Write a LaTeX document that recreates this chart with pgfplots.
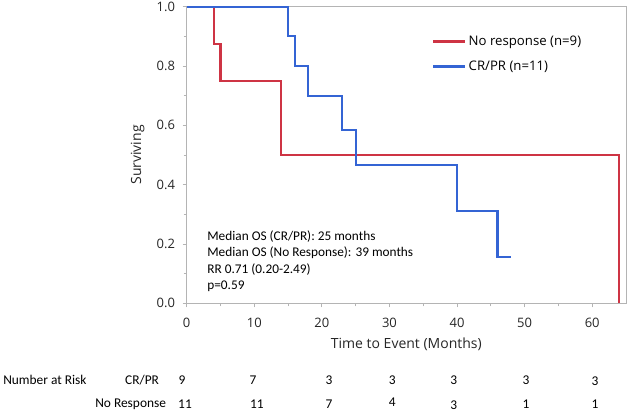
\documentclass[border=0pt]{standalone}
\usepackage{pgfplots}
\pgfplotsset{compat=1.18}
\usepackage{fontspec}
\setmainfont{Open Sans}
\newfontfamily\calfont{Carlito}
\definecolor{kmred}{RGB}{206,52,68}
\definecolor{kmblue}{RGB}{52,100,212}
\definecolor{framegray}{RGB}{180,180,180}
\tikzset{nar/.style={font=\calfont\fontsize{13.4}{15}\selectfont, inner sep=0pt}}
\begin{document}
\begin{tikzpicture}[x=1pt,y=1pt]
\path[use as bounding box] (0,0) rectangle (630,413);
\begin{axis}[
  at={(186.7pt,109.7pt)}, anchor=south west,
  scale only axis, width=439.3pt, height=296.6pt,
  xmin=0, xmax=65, ymin=0, ymax=1,
  xtick={0,10,...,60}, ytick={0,0.2,...,1.0},
  minor xtick={5,15,...,55}, minor ytick={0.1,0.3,...,0.9},
  /pgf/number format/assume math mode=true,
  tick align=outside, tick pos=left,
  major tick length=4pt, minor tick length=3pt,
  axis line style={framegray}, tick style={framegray, line width=0.8pt},
  every axis/.append style={line width=0.8pt},
  tick label style={font=\fontsize{13}{15}\selectfont, color=black!85},
  xticklabel style={yshift=-7pt},
  yticklabel style={xshift=-4pt, /pgf/number format/.cd,fixed,fixed zerofill,precision=1},
  xlabel={Time to Event (Months)}, ylabel={Surviving},
  label style={font=\fontsize{14}{16}\selectfont, color=black!85},
  xlabel style={yshift=-3pt},
  ylabel style={yshift=5pt},
  clip=false,
  legend style={draw=none, fill=none, at={(0.55,0.917)}, anchor=north west,
    font=\fontsize{13.2}{15}\selectfont, row sep=10pt, cells={anchor=west}},
  legend image code/.code={\draw[#1, line width=3pt] (0pt,0pt) -- (32pt,0pt);},
]
\addplot[const plot, kmred, line width=2.2pt] coordinates {
  (0,1) (4,0.875) (5,0.75) (14,0.5) (64,0)
};
\addlegendentry{No response (n=9)}
\addplot[const plot, kmblue, line width=2.2pt] coordinates {
  (0,1) (15,0.9) (16,0.8) (18,0.7) (23,0.583) (25,0.467) (40,0.311) (46,0.156) (48,0.156)
};
\addlegendentry{CR/PR (n=11)}
\node[anchor=north west, align=left, font=\calfont\fontsize{13.3}{16.6}\selectfont, inner sep=0pt]
  at (axis cs:3.0,0.247) {Median OS (CR/PR): 25 months\\Median OS (No Response): 39 months\\RR 0.71 (0.20-2.49)\\p=0.59};
% Number at risk
\node[nar, anchor=west] at (axis cs:-27.2,-0.258) {Number at Risk};
\node[nar] at (axis cs:-6.6,-0.258) {CR/PR};
\node[nar, anchor=east] at (axis cs:-3.0,-0.339) {No Response};
\node[nar] at (axis cs:-0.7,-0.258) {9};
\node[nar] at (axis cs:9.8,-0.258) {7};
\node[nar] at (axis cs:21.05,-0.258) {3};
\node[nar] at (axis cs:30.4,-0.258) {3};
\node[nar] at (axis cs:39.5,-0.258) {3};
\node[nar] at (axis cs:50.2,-0.258) {3};
\node[nar] at (axis cs:60.4,-0.262) {3};
\node[nar] at (axis cs:-0.25,-0.339) {11};
\node[nar] at (axis cs:10.4,-0.339) {11};
\node[nar] at (axis cs:21.05,-0.339) {7};
\node[nar] at (axis cs:30.4,-0.335) {4};
\node[nar] at (axis cs:39.5,-0.343) {3};
\node[nar] at (axis cs:50.2,-0.339) {1};
\node[nar] at (axis cs:60.4,-0.339) {1};
\end{axis}
\end{tikzpicture}
\end{document}
